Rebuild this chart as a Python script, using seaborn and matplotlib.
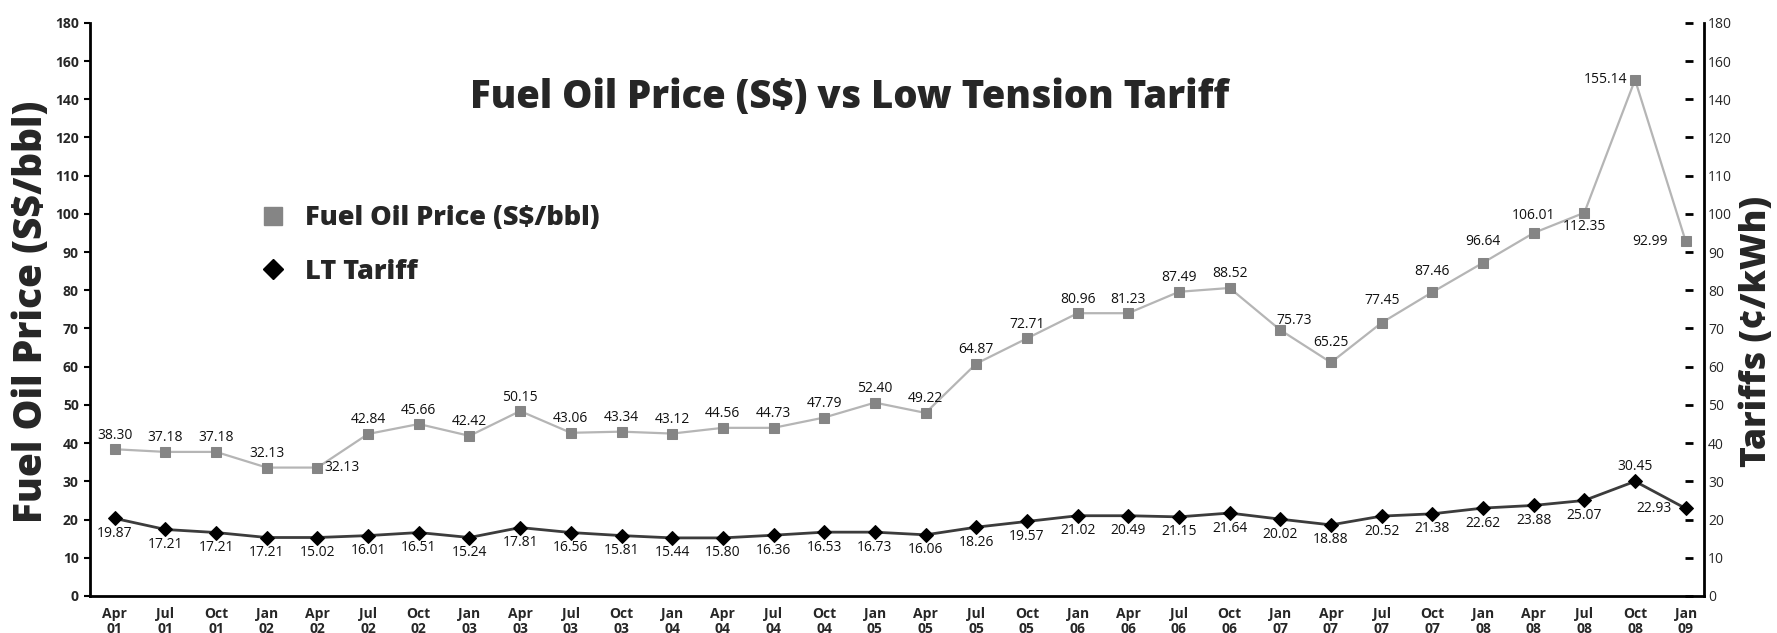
import matplotlib
matplotlib.use("Agg")
import matplotlib.pyplot as plt
from matplotlib.lines import Line2D
import seaborn as sns
import pandas as pd

# quarters Apr 01 .. Jan 09
quarters = ["Apr\n01", "Jul\n01", "Oct\n01", "Jan\n02", "Apr\n02", "Jul\n02", "Oct\n02", "Jan\n03",
            "Apr\n03", "Jul\n03", "Oct\n03", "Jan\n04", "Apr\n04", "Jul\n04", "Oct\n04", "Jan\n05",
            "Apr\n05", "Jul\n05", "Oct\n05", "Jan\n06", "Apr\n06", "Jul\n06", "Oct\n06", "Jan\n07",
            "Apr\n07", "Jul\n07", "Oct\n07", "Jan\n08", "Apr\n08", "Jul\n08", "Oct\n08", "Jan\n09"]

# fuel oil price: printed labels and where the markers actually sit on the axis
fuel_labels = ["38.30", "37.18", "37.18", "32.13", "32.13", "42.84", "45.66", "42.42",
               "50.15", "43.06", "43.34", "43.12", "44.56", "44.73", "47.79", "52.40",
               "49.22", "64.87", "72.71", "80.96", "81.23", "87.49", "88.52", "75.73",
               "65.25", "77.45", "87.46", "96.64", "106.01", "112.35", "155.14", "92.99"]
fuel_plot = [38.4, 37.7, 37.7, 33.6, 33.6, 42.4, 45.0, 41.9,
             48.4, 42.7, 43.0, 42.5, 44.0, 44.0, 46.7, 50.6,
             47.9, 60.8, 67.4, 74.0, 74.0, 79.6, 80.6, 69.6,
             61.1, 71.5, 79.5, 87.2, 95.0, 100.3, 135.1, 92.8]

# LT tariff
tariff_labels = ["19.87", "17.21", "17.21", "17.21", "15.02", "16.01", "16.51", "15.24",
                 "17.81", "16.56", "15.81", "15.44", "15.80", "16.36", "16.53", "16.73",
                 "16.06", "18.26", "19.57", "21.02", "20.49", "21.15", "21.64", "20.02",
                 "18.88", "20.52", "21.38", "22.62", "23.88", "25.07", "30.45", "22.93"]
tariff_plot = [20.3, 17.4, 16.6, 15.3, 15.3, 15.8, 16.6, 15.3,
               17.9, 16.6, 15.8, 15.2, 15.2, 15.9, 16.7, 16.7,
               16.0, 18.0, 19.5, 21.0, 21.0, 20.7, 21.7, 20.1,
               18.6, 20.9, 21.5, 23.0, 23.7, 25.0, 30.0, 22.9]

# axis tick labels (axis is evenly spaced, labels jump above 120)
ytick_pos = list(range(0, 151, 10))
ytick_labels = ["0", "10", "20", "30", "40", "50", "60", "70", "80", "90",
                "100", "110", "120", "140", "160", "180"]

df = pd.DataFrame({"pos": range(len(quarters)), "fuel": fuel_plot, "tariff": tariff_plot})

sns.set_style("white")
plt.rcParams["font.family"] = ["Open Sans", "DejaVu Sans"]

fig = plt.figure(figsize=(17.77, 6.33), dpi=100)
ax = fig.add_axes([0.0506, 0.0585, 0.9083, 0.9055])

sns.lineplot(data=df, x="pos", y="fuel", ax=ax, color="#b5b5b5", linewidth=1.6,
             marker="s", markersize=7, markerfacecolor="#858585", markeredgecolor="#858585")
sns.lineplot(data=df, x="pos", y="tariff", ax=ax, color="#3c3c3c", linewidth=2,
             marker="D", markersize=7, markerfacecolor="black", markeredgecolor="black")

ax.set_xlim(-0.49, 31.36)
ax.set_ylim(0, 150)
ax.set_xlabel("")
ax.set_ylabel("")

# data labels (pixel offsets from the marker)
fuel_off = [(0, 14)] * len(quarters)
fuel_off[4] = (25, 0)
fuel_off[23] = (14, 10)
fuel_off[24] = (0, 20)
fuel_off[25] = (0, 22)
fuel_off[26] = (0, 21)
fuel_off[27] = (0, 21)
fuel_off[28] = (0, 17)
fuel_off[29] = (0, -14)
fuel_off[30] = (-30, 0)
fuel_off[31] = (-36, 0)
tariff_off = [(0, -15)] * len(quarters)
tariff_off[30] = (0, 15)
tariff_off[31] = (-32, 0)

lab_font = dict(fontsize=10, color="#111111", ha="center", va="center",
                family=["Open Sans", "DejaVu Sans"])
for i in range(len(quarters)):
    ax.annotate(fuel_labels[i], (i, fuel_plot[i]), xytext=fuel_off[i],
                textcoords="offset pixels", **lab_font)
    ax.annotate(tariff_labels[i], (i, tariff_plot[i]), xytext=tariff_off[i],
                textcoords="offset pixels", **lab_font)

# x axis
ax.set_xticks(range(len(quarters)))
ax.set_xticklabels(quarters, fontsize=10, fontweight="bold", linespacing=1.05)
ax.set_xticks([i + 0.5 for i in range(len(quarters) - 1)], minor=True)
ax.tick_params(axis="x", which="major", length=0, pad=8)
ax.tick_params(axis="x", which="minor", direction="in", length=8, width=2, color="black")

# left y axis
ax.set_yticks(ytick_pos)
ax.set_yticklabels(ytick_labels, fontsize=10, fontweight="bold")
ax.tick_params(axis="y", which="major", direction="out", length=4, width=1.5, color="black", pad=4, left=True)

for s in ["top"]:
    ax.spines[s].set_visible(False)
for s in ["left", "bottom", "right"]:
    ax.spines[s].set_visible(True)
    ax.spines[s].set_color("black")
    ax.spines[s].set_linewidth(2)

# right y axis: short dashes sitting just inside the spine
ax2 = ax.twinx()
ax2.set_ylim(0, 150)
ax2.set_yticks(ytick_pos)
ax2.set_yticklabels(ytick_labels, fontsize=10, fontweight="bold")
ax2.spines["right"].set_position(("outward", -8))
for s in ax2.spines:
    ax2.spines[s].set_visible(False)
ax2.tick_params(axis="y", direction="in", length=6, width=2, color="black", pad=11)
ax2.grid(False)
ax.grid(False)

# titles / axis labels
fig.text(0.478, 0.846, "Fuel Oil Price (S$) vs Low Tension Tariff", fontsize=27.5,
         fontweight="heavy", ha="center", va="center")
fig.text(0.018, 0.507, "Fuel Oil Price (S$/bbl)", fontsize=28, fontweight="heavy",
         rotation=90, ha="center", va="center")
fig.text(0.989, 0.477, "Tariffs (\u00a2/kWh)", fontsize=25.5, fontweight="heavy",
         rotation=90, ha="center", va="center")

# legend
handles = [Line2D([], [], marker="s", linestyle="none", color="#858585", markersize=13),
           Line2D([], [], marker="D", linestyle="none", color="black", markersize=10)]
ax.legend(handles, ["Fuel Oil Price (S$/bbl)", "LT Tariff"], loc="upper left",
          bbox_to_anchor=(0.139, 0.697), bbox_transform=fig.transFigure, frameon=False,
          prop={"size": 19.5, "weight": "heavy"}, handlelength=0.9, handletextpad=0.75,
          labelspacing=1.02, borderpad=0)

fig.savefig("out.png", dpi=100)
